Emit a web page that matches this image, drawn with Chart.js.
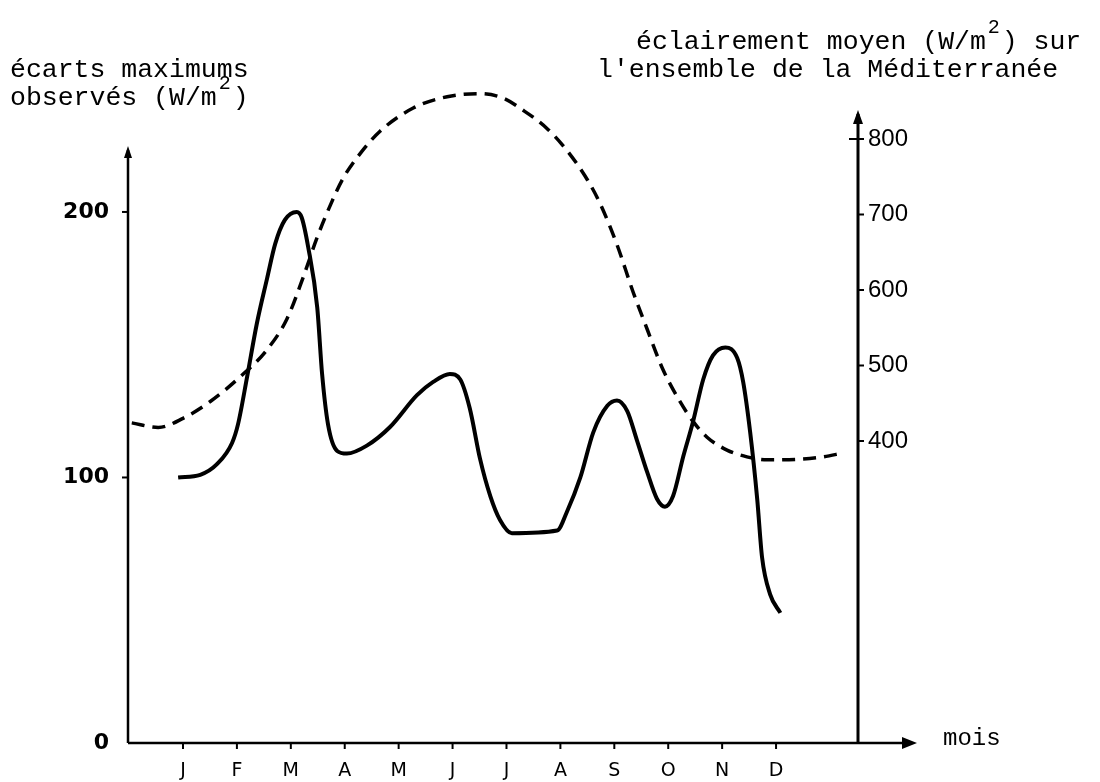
<!DOCTYPE html>
<html>
<head>
<meta charset="utf-8">
<script src="https://cdn.jsdelivr.net/npm/chart.js@4.4.0/dist/chart.umd.min.js"></script>
<style>
  body { margin: 0; background: #fff; }
  #wrap { width: 1100px; height: 782px; }
</style>
</head>
<body>
<div id="wrap"><canvas id="myChart" width="1100" height="782"></canvas></div>
<script>
const months = ['J', 'F', 'M', 'A', 'M', 'J', 'J', 'A', 'S', 'O', 'N', 'D'];
const leftTicks = [0, 100, 200];
const rightTicks = [400, 500, 600, 700, 800];

// écarts maximums observés (axe gauche), x = rang du mois (J = 0)
const ecartX = [-0.09, 0.32, 0.63, 0.91, 1.02, 1.19, 1.37, 1.56, 1.71, 1.89, 2.11, 2.2, 2.32, 2.49, 2.58, 2.69, 2.86, 3.04, 3.41, 3.84,
  4.34, 4.64, 4.95, 5.14, 5.32, 5.51, 5.7, 5.88, 6.1, 6.94, 7.12, 7.37, 7.61, 7.87, 8.05, 8.24, 8.42, 8.61, 8.79, 8.94,
  9.09, 9.28, 9.46, 9.65, 9.83, 10.06, 10.28, 10.39, 10.52, 10.65, 10.74, 10.89, 11.08];
const ecartY = [100, 101, 105, 113, 120, 138, 158, 175, 188, 197, 200, 198, 187, 164, 139, 120, 110, 109, 112, 119,
  131, 136, 139, 137, 126, 107, 93, 84, 79, 80, 87, 100, 117, 127, 129, 125, 114, 102, 92, 89,
  93, 108, 121, 137, 146, 149, 145, 136, 117, 92, 70, 56, 49];

// éclairement moyen sur la Méditerranée (axe droit)
const eclairX = [-0.95, -0.46, 0, 0.5, 1.06, 1.56, 1.93, 2.23, 2.49, 2.78, 2.97, 3.3, 3.65, 4.27, 4.9, 5.51, 5.94, 6.31, 6.75, 7.12,
  7.5, 7.74, 8.05, 8.35, 8.61, 8.9, 9.22, 9.46, 9.72, 10.09, 10.46, 10.83, 11.45, 11.87, 12.24];
const eclairY = [424, 418, 430, 452, 485, 521, 562, 617, 670, 720, 748, 782, 810, 841, 856, 860, 854, 838, 814, 785,
  746, 714, 660, 597, 548, 495, 452, 426, 405, 388, 379, 375, 376, 379, 384];

const ecartData = ecartX.map((x, i) => ({x: x, y: ecartY[i]}));
const eclairData = eclairX.map((x, i) => ({x: x, y: eclairY[i]}));

function arrowHead(ctx, x, y, dir, len, half) {
  ctx.beginPath();
  if (dir === 'up') {
    ctx.moveTo(x, y);
    ctx.lineTo(x - half, y + len);
    ctx.lineTo(x + half, y + len);
  } else {
    ctx.moveTo(x, y);
    ctx.lineTo(x - len, y - half);
    ctx.lineTo(x - len, y + half);
  }
  ctx.closePath();
  ctx.fill();
}

const axesPlugin = {
  id: 'axesPlugin',
  afterDraw(chart) {
    const ctx = chart.ctx;
    const xs = chart.scales.x, yl = chart.scales.yLeft, yr = chart.scales.yRight;
    const x0 = xs.left, x1 = xs.right, yb = yl.bottom;
    ctx.save();
    ctx.strokeStyle = '#000';
    ctx.fillStyle = '#000';
    ctx.lineWidth = 2.5;
    // axe horizontal
    ctx.beginPath(); ctx.moveTo(x0, yb); ctx.lineTo(905, yb); ctx.stroke();
    arrowHead(ctx, 917, yb, 'right', 15, 6);
    // axe gauche
    ctx.beginPath(); ctx.moveTo(x0, yb); ctx.lineTo(x0, 150); ctx.stroke();
    arrowHead(ctx, x0, 146, 'up', 12, 4);
    // axe droit
    ctx.lineWidth = 3;
    ctx.beginPath(); ctx.moveTo(x1, yb); ctx.lineTo(x1, 114); ctx.stroke();
    arrowHead(ctx, x1, 110, 'up', 14, 5);
    // graduations
    ctx.lineWidth = 2;
    months.forEach((m, i) => {
      const px = xs.getPixelForValue(i);
      ctx.beginPath(); ctx.moveTo(px, yb); ctx.lineTo(px, yb + 6); ctx.stroke();
    });
    leftTicks.slice(1).forEach(v => {
      const py = yl.getPixelForValue(v);
      ctx.beginPath(); ctx.moveTo(x0 - 6, py); ctx.lineTo(x0, py); ctx.stroke();
    });
    rightTicks.forEach(v => {
      const py = yr.getPixelForValue(v);
      ctx.beginPath(); ctx.moveTo(v === 800 ? x1 - 9 : x1, py); ctx.lineTo(x1 + 6, py); ctx.stroke();
    });
    // titres
    ctx.font = '26.5px "Liberation Mono"';
    ctx.textBaseline = 'middle';
    ctx.textAlign = 'left';
    const cw = ctx.measureText('a').width;
    ctx.fillText('écarts maximums', 10, 70);
    ctx.fillText('observés (W/m', 10, 98);
    ctx.fillText(')', 10 + cw * 14, 98);
    ctx.fillText('éclairement moyen (W/m', 636, 42);
    ctx.fillText(') sur', 636 + cw * 23, 42);
    ctx.fillText("l'ensemble de la Méditerranée", 597, 70);
    ctx.font = '20px "Liberation Mono"';
    ctx.fillText('2', 10 + cw * 13 + 2, 84);
    ctx.fillText('2', 636 + cw * 22 + 2, 28);
    ctx.font = '24px "Liberation Mono"';
    ctx.fillText('mois', 943, 739);
    ctx.restore();
  }
};

const config = {
  type: 'line',
  data: {
    datasets: [
      {
        label: 'écarts maximums observés',
        data: ecartData,
        yAxisID: 'yLeft',
        borderColor: '#000',
        borderWidth: 4,
        pointRadius: 0,
        cubicInterpolationMode: 'monotone',
        clip: false,
        fill: false
      },
      {
        label: 'éclairement moyen',
        data: eclairData,
        yAxisID: 'yRight',
        borderColor: '#000',
        borderWidth: 3.5,
        borderDash: [13, 8],
        pointRadius: 0,
        cubicInterpolationMode: 'monotone',
        clip: false,
        fill: false
      }
    ]
  },
  options: {
    responsive: false,
    animation: false,
    layout: { padding: { top: 110, left: 0, right: 0, bottom: 0 } },
    plugins: { legend: { display: false }, tooltip: { enabled: false } },
    scales: {
      x: {
        type: 'linear',
        min: -1.02,
        max: 12.52,
        grid: { display: false, drawTicks: false },
        border: { display: false },
        afterBuildTicks: s => { s.ticks = months.map((m, i) => ({value: i})); },
        afterFit: s => { s.height = 39; },
        ticks: {
          autoSkip: false,
          maxRotation: 0,
          padding: 17,
          color: '#000',
          font: { family: 'DejaVu Sans', size: 19 },
          callback: v => months[v]
        }
      },
      yLeft: {
        type: 'linear',
        position: 'left',
        min: 0,
        max: 238.4,
        grid: { display: false, drawTicks: false },
        border: { display: false },
        afterBuildTicks: s => { s.ticks = leftTicks.map(v => ({value: v})); },
        afterFit: s => { s.width = 128; },
        ticks: {
          padding: 19,
          color: '#000',
          font: { family: 'DejaVu Sans', size: 22, weight: 'bold' }
        }
      },
      yRight: {
        type: 'linear',
        position: 'right',
        min: 0,
        max: 838.4,
        grid: { display: false, drawTicks: false },
        border: { display: false },
        afterBuildTicks: s => { s.ticks = rightTicks.map(v => ({value: v})); },
        afterFit: s => { s.width = 242; },
        ticks: {
          padding: 10,
          color: '#000',
          font: { family: 'Liberation Sans', size: 24 }
        }
      }
    }
  },
  plugins: [axesPlugin]
};

var myChart = new Chart(document.getElementById('myChart'), config);
</script>
</body>
</html>
